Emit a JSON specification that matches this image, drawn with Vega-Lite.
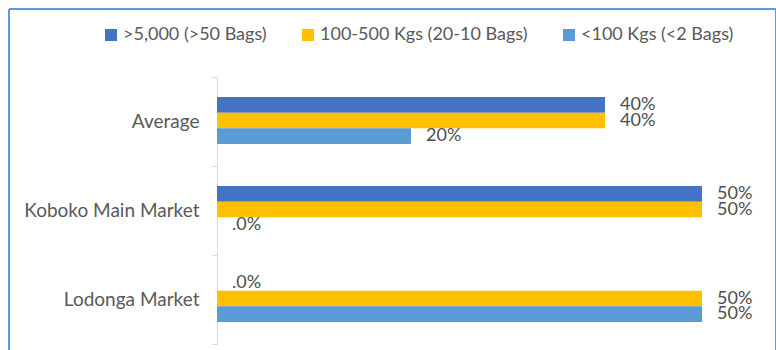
{
  "$schema": "https://vega.github.io/schema/vega-lite/v6.json",
  "width": 767,
  "height": 341,
  "autosize": {"type": "none"},
  "padding": {"left": 9, "top": 9, "right": 0, "bottom": 0},
  "background": "white",
  "config": {
    "font": "Lato",
    "view": {"stroke": "#5b9bd5", "strokeWidth": 2, "strokeDash": [1108, 767, 341, 0]}
  },
  "data": {
    "values": [
      {"market": "Average", "size": ">5,000 (>50 Bags)", "share": 0.4, "label": "40%"},
      {"market": "Average", "size": "100-500 Kgs (20-10 Bags)", "share": 0.4, "label": "40%"},
      {"market": "Average", "size": "<100 Kgs (<2 Bags)", "share": 0.2, "label": "20%"},
      {"market": "Koboko Main Market", "size": ">5,000 (>50 Bags)", "share": 0.5, "label": "50%"},
      {"market": "Koboko Main Market", "size": "100-500 Kgs (20-10 Bags)", "share": 0.5, "label": "50%"},
      {"market": "Koboko Main Market", "size": "<100 Kgs (<2 Bags)", "share": 0, "label": ".0%"},
      {"market": "Lodonga Market", "size": ">5,000 (>50 Bags)", "share": 0, "label": ".0%"},
      {"market": "Lodonga Market", "size": "100-500 Kgs (20-10 Bags)", "share": 0.5, "label": "50%"},
      {"market": "Lodonga Market", "size": "<100 Kgs (<2 Bags)", "share": 0.5, "label": "50%"}
    ]
  },
  "encoding": {
    "y": {
      "field": "market",
      "type": "nominal",
      "sort": ["Average", "Koboko Main Market", "Lodonga Market"],
      "scale": {"range": [68, 335], "paddingInner": 0, "paddingOuter": 0},
      "axis": {
        "title": null,
        "tickBand": "extent",
        "offset": -208,
        "domainColor": "#d9d9d9",
        "tickColor": "#d9d9d9",
        "tickSize": 5,
        "labelPadding": 13,
        "labelFont": "Lato",
        "labelFontSize": 19,
        "labelColor": "#595959",
        "labelLimit": 300,
        "grid": false
      }
    },
    "yOffset": {
      "field": "size",
      "type": "nominal",
      "sort": [">5,000 (>50 Bags)", "100-500 Kgs (20-10 Bags)", "<100 Kgs (<2 Bags)"],
      "scale": {"range": [20, 67], "paddingInner": 0, "paddingOuter": 0}
    },
    "x": {
      "field": "share",
      "type": "quantitative",
      "scale": {"domain": [0, 0.5], "range": [208, 693]},
      "axis": null
    }
  },
  "layer": [
    {
      "mark": {"type": "bar"},
      "encoding": {
        "color": {
          "field": "size",
          "type": "nominal",
          "title": null,
          "scale": {
            "domain": [">5,000 (>50 Bags)", "100-500 Kgs (20-10 Bags)", "<100 Kgs (<2 Bags)"],
            "range": ["#4472c4", "#ffc000", "#5b9bd5"]
          },
          "legend": {
            "orient": "none",
            "legendX": 93,
            "legendY": 17,
            "direction": "horizontal",
            "columns": 3,
            "columnPadding": 32,
            "symbolType": "square",
            "symbolSize": 144,
            "symbolStrokeWidth": 0,
            "labelFont": "Lato",
            "labelFontSize": 18,
            "labelColor": "#595959",
            "labelLimit": 400,
            "labelOffset": 3,
            "padding": 0
          }
        }
      }
    },
    {
      "mark": {
        "type": "text",
        "align": "left",
        "baseline": "middle",
        "dx": 15,
        "font": "Lato",
        "fontSize": 18,
        "color": "#4d4d4d"
      },
      "encoding": {"text": {"field": "label"}}
    }
  ]
}
